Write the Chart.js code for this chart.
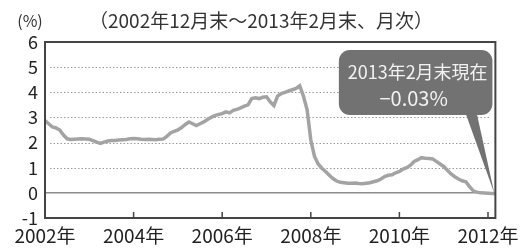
<!DOCTYPE html>
<html>
<head>
<meta charset="utf-8">
<script src="https://cdn.jsdelivr.net/npm/chart.js@4"></script>
<style>
html, body { margin: 0; padding: 0; background: #fff; }
</style>
</head>
<body>
<canvas id="myChart" width="525" height="248"></canvas>
<script>
var FONT = '"Noto Sans CJK JP", "Noto Sans", sans-serif';

var unitLabel = '(%)';
var periodLabel = '（2002年12月末～2013年2月末、月次）';
var calloutLines = ['2013年2月末現在', '−0.03%'];

// monthly, Dec 2002 .. Feb 2013
var startYear = 2002, startMonth = 12, monthCount = 123;
var yearTicks = ['2002年', '2004年', '2006年', '2008年', '2010年', '2012年'];
var yTicks = [-1, 0, 1, 2, 3, 4, 5, 6];

var rates = [
  2.87, 2.75, 2.62, 2.58, 2.50, 2.30, 2.15, 2.12, 2.13, 2.14, 2.15, 2.14,
  2.13, 2.08, 2.02, 1.97, 2.02, 2.06, 2.08, 2.08, 2.10, 2.11, 2.12, 2.15,
  2.16, 2.15, 2.13, 2.12, 2.13, 2.12, 2.11, 2.13, 2.14, 2.25, 2.38, 2.45,
  2.50, 2.60, 2.72, 2.82, 2.75, 2.68, 2.75, 2.82, 2.92, 3.00, 3.07, 3.12,
  3.15, 3.22, 3.18, 3.28, 3.32, 3.38, 3.45, 3.50, 3.75, 3.78, 3.75, 3.80,
  3.82, 3.62, 3.47, 3.85, 3.95, 4.00, 4.05, 4.10, 4.15, 4.26, 3.85, 3.30,
  2.10, 1.45, 1.15, 0.98, 0.85, 0.70, 0.57, 0.47, 0.42, 0.40, 0.38, 0.38,
  0.39, 0.37, 0.36, 0.38, 0.40, 0.44, 0.48, 0.55, 0.65, 0.70, 0.72, 0.80,
  0.85, 0.95, 1.00, 1.10, 1.25, 1.32, 1.40, 1.38, 1.37, 1.35, 1.25, 1.15,
  1.05, 0.90, 0.75, 0.64, 0.55, 0.48, 0.44, 0.25, 0.08, 0.03, 0.00, -0.01,
  -0.02, -0.03, -0.03
];

var months = [];
for (var i = 0; i < monthCount; i++) {
  var m = startMonth - 1 + i;
  months.push((startYear + Math.floor(m / 12)) + '-' + ((m % 12) + 1));
}

// callout box in data units (index, %)
var calloutBox = { x0: 79.6, x1: 121.2, y0: 5.68, y1: 3.1 };
var calloutBase = [114.0, 117.0];

var decorations = {
  id: 'decorations',
  beforeDraw: function (chart) {
    var ctx = chart.ctx;
    ctx.save();
    ctx.fillStyle = '#333';
    ctx.textBaseline = 'middle';
    ctx.textAlign = 'center';
    ctx.font = '16px ' + FONT;
    ctx.fillText(unitLabel, 30, 21);
    ctx.font = '19px ' + FONT;
    ctx.fillText(periodLabel, 261, 21);
    ctx.restore();
  },
  beforeDatasetsDraw: function (chart) {
    var ctx = chart.ctx, a = chart.chartArea, ys = chart.scales.y;
    ctx.save();
    // dotted grid
    ctx.strokeStyle = '#9a9a9a';
    ctx.lineWidth = 1.2;
    ctx.setLineDash([1.5, 2]);
    for (var k = 0; k < yTicks.length; k++) {
      var v = yTicks[k];
      if (v <= 0 || v === yTicks[yTicks.length - 1]) continue;
      var py = Math.round(ys.getPixelForValue(v)) + 0.5;
      ctx.beginPath();
      ctx.moveTo(a.left + 5, py);
      ctx.lineTo(a.right - 5, py);
      ctx.stroke();
    }
    ctx.setLineDash([]);
    var y0 = ys.getPixelForValue(0);
    ctx.strokeStyle = '#8c8c8c';
    ctx.lineWidth = 1.5;
    ctx.beginPath();
    ctx.moveTo(a.left, y0);
    ctx.lineTo(a.right, y0);
    ctx.stroke();
    ctx.restore();
  },
  afterDatasetsDraw: function (chart) {
    var ctx = chart.ctx, a = chart.chartArea;
    var xs = chart.scales.x, ys = chart.scales.y;
    ctx.save();
    // tick marks pointing inward
    ctx.strokeStyle = '#444';
    ctx.lineWidth = 1.5;
    for (var k = 1; k < yearTicks.length; k++) {
      var px = xs.getPixelForValue(k * 24);
      ctx.beginPath();
      ctx.moveTo(px, a.bottom);
      ctx.lineTo(px, a.bottom - 6);
      ctx.stroke();
    }
    // frame
    ctx.lineWidth = 2;
    ctx.strokeRect(a.left, a.top, a.right - a.left, a.bottom - a.top);

    // callout
    var bx0 = xs.getPixelForValue(calloutBox.x0), bx1 = xs.getPixelForValue(calloutBox.x1);
    var by0 = ys.getPixelForValue(calloutBox.y0), by1 = ys.getPixelForValue(calloutBox.y1);
    var r = 11;
    ctx.fillStyle = '#727272';
    ctx.beginPath();
    ctx.moveTo(bx0 + r, by0);
    ctx.lineTo(bx1 - r, by0);
    ctx.arcTo(bx1, by0, bx1, by0 + r, r);
    ctx.lineTo(bx1, by1 - r);
    ctx.arcTo(bx1, by1, bx1 - r, by1, r);
    ctx.lineTo(bx0 + r, by1);
    ctx.arcTo(bx0, by1, bx0, by1 - r, r);
    ctx.lineTo(bx0, by0 + r);
    ctx.arcTo(bx0, by0, bx0 + r, by0, r);
    ctx.closePath();
    ctx.fill();
    var last = rates.length - 1;
    ctx.beginPath();
    ctx.moveTo(xs.getPixelForValue(calloutBase[0]), by1 - 1);
    ctx.lineTo(xs.getPixelForValue(calloutBase[1]), by1 - 1);
    ctx.lineTo(xs.getPixelForValue(last) - 1, ys.getPixelForValue(rates[last]));
    ctx.closePath();
    ctx.fill();
    ctx.fillStyle = '#f2f2f2';
    ctx.textAlign = 'center';
    ctx.textBaseline = 'middle';
    var cx = (bx0 + bx1) / 2;
    ctx.font = '18px ' + FONT;
    ctx.fillText(calloutLines[0], cx + 2, by0 + 22);
    ctx.font = '20px ' + FONT;
    ctx.fillText(calloutLines[1], cx - 2, by0 + 48);
    ctx.restore();
  }
};

var chart = new Chart(document.getElementById('myChart'), {
  type: 'line',
  data: {
    labels: months,
    datasets: [{
      data: rates,
      borderColor: '#a3a3a3',
      borderWidth: 3.5,
      pointRadius: 0,
      tension: 0,
      fill: false
    }]
  },
  options: {
    responsive: false,
    animation: false,
    layout: { padding: { top: 42, right: 25, left: 0, bottom: 0 } },
    plugins: { legend: { display: false }, tooltip: { enabled: false } },
    scales: {
      x: {
        type: 'category',
        grid: { display: false, drawTicks: false },
        border: { display: false },
        afterFit: function (s) { s.height = 30; },
        ticks: {
          autoSkip: false,
          maxRotation: 0,
          minRotation: 0,
          padding: 6,
          color: '#222',
          font: { family: FONT, size: 19 },
          callback: function (v, idx) {
            return idx % 24 === 0 ? yearTicks[idx / 24] : null;
          }
        }
      },
      y: {
        min: yTicks[0],
        max: yTicks[yTicks.length - 1],
        afterFit: function (s) { s.width = 45; },
        grid: { display: false, drawTicks: false },
        border: { display: false },
        ticks: {
          stepSize: 1,
          padding: 7,
          color: '#222',
          font: { family: FONT, size: 18 }
        }
      }
    }
  },
  plugins: [decorations]
});
</script>
</body>
</html>
